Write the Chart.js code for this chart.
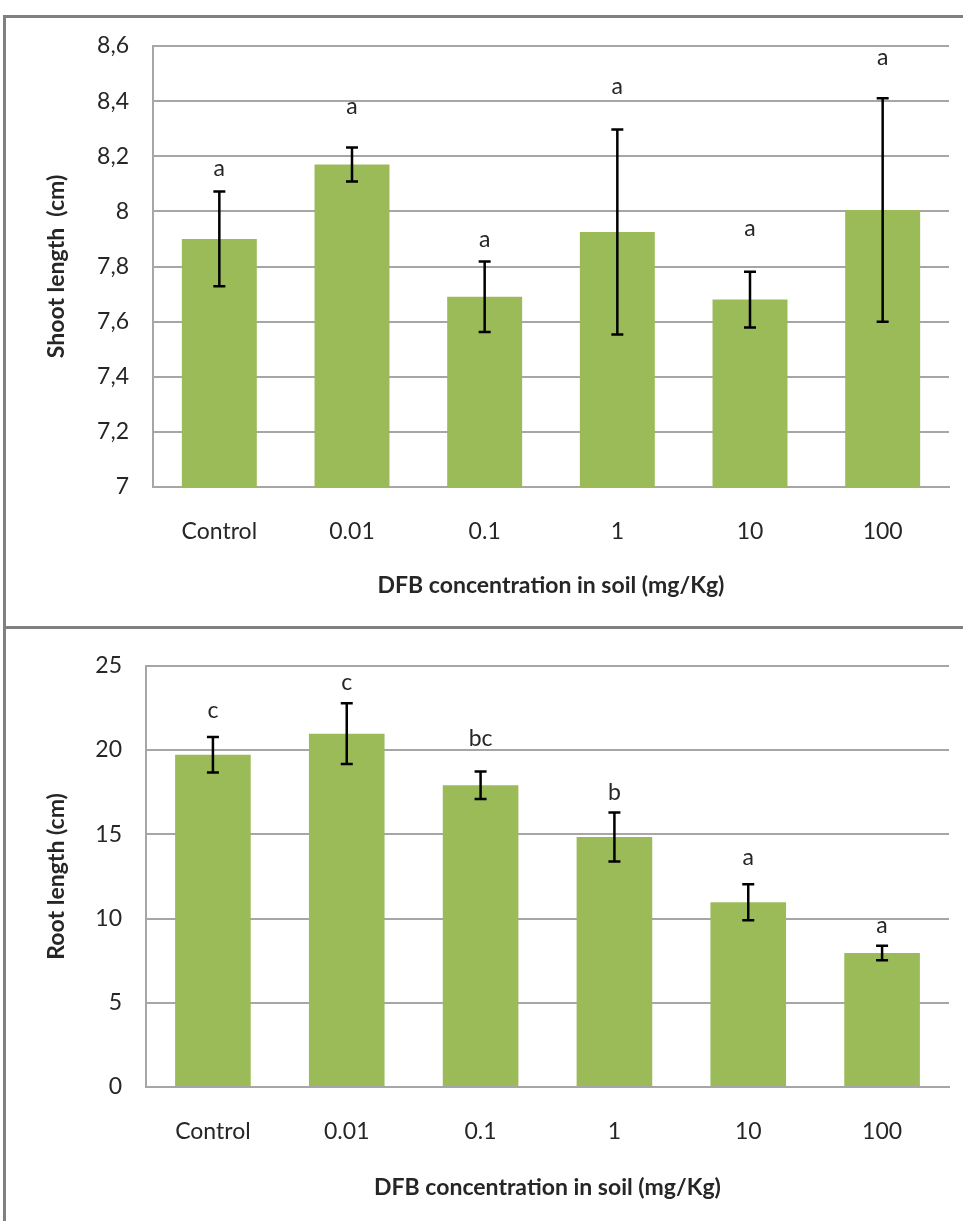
<!DOCTYPE html>
<html>
<head>
<meta charset="utf-8">
<script src="https://cdn.jsdelivr.net/npm/chart.js@4.4.1/dist/chart.umd.min.js"></script>
<style>
  body { margin: 0; background: #fff; width: 963px; height: 1221px; position: relative; overflow: hidden; }
  .wrap { position: absolute; left: 0; width: 963px; }
  .frame { position: absolute; background: #808080; }
</style>
</head>
<body>

<div class="wrap" style="top:0;height:628px"><canvas id="shootChart"></canvas></div>
<div class="wrap" style="top:628px;height:593px"><canvas id="rootChart"></canvas></div>

<div class="frame" style="left:3px;top:15px;width:960px;height:3px"></div>
<div class="frame" style="left:3px;top:15px;width:3px;height:1206px"></div>
<div class="frame" style="left:3px;top:626px;width:960px;height:3px"></div>

<script>

// =======================
// DATA
// =======================

const categories = ["Control", "0.01", "0.1", "1", "10", "100"];

const shootMean    = [7.90, 8.17, 7.69, 7.925, 7.68, 8.005];
const shootErr     = [0.172, 0.062, 0.128, 0.372, 0.101, 0.405];
const shootLetters = ["a", "a", "a", "a", "a", "a"];
const shootLetterY = [8.156, 8.382, 7.898, 8.452, 7.939, 8.558];

const rootMean    = [19.72, 20.97, 17.91, 14.84, 10.96, 7.95];
const rootErr     = [1.05, 1.80, 0.82, 1.45, 1.07, 0.43];
const rootLetters = ["c", "c", "bc", "b", "a", "a"];
const rootLetterY = [22.36, 24.02, 20.7, 17.48, 13.63, 9.6];

const xTitle = "DFB concentration in soil (mg/Kg)";

// =======================
// STYLE
// =======================

const FONT = "Lato, 'Open Sans', sans-serif";
const GREEN = "#9bbb59";
const GRID = "#a6a6a6";
const TEXT = "#262626";

Chart.defaults.font.family = FONT;
Chart.defaults.color = TEXT;

// error bars + significance letters
function makeErrorBars(mean, err, letters, letterY) {
  return {
    id: "errorBars",
    afterDatasetsDraw(chart) {
      const ctx = chart.ctx;
      const y = chart.scales.y;
      const bars = chart.getDatasetMeta(0).data;

      ctx.save();
      ctx.strokeStyle = "#000";
      ctx.lineWidth = 2.5;
      bars.forEach((bar, i) => {
        const hi = y.getPixelForValue(mean[i] + err[i]);
        const lo = y.getPixelForValue(mean[i] - err[i]);
        ctx.beginPath();
        ctx.moveTo(bar.x, hi); ctx.lineTo(bar.x, lo);
        ctx.moveTo(bar.x - 6, hi); ctx.lineTo(bar.x + 6, hi);
        ctx.moveTo(bar.x - 6, lo); ctx.lineTo(bar.x + 6, lo);
        ctx.stroke();
      });

      ctx.fillStyle = TEXT;
      ctx.font = "23px " + FONT;
      ctx.textAlign = "center";
      ctx.textBaseline = "middle";
      bars.forEach((bar, i) => {
        ctx.fillText(letters[i], bar.x, y.getPixelForValue(letterY[i]));
      });
      ctx.restore();
    }
  };
}

function commaTick(v) {
  return String(Math.round(v * 10) / 10).replace(".", ",");
}

// =======================
// CHART BUILDER
// =======================

function buildChart(id, mean, err, letters, letterY, yCfg) {
  const ctx = document.getElementById(id).getContext("2d");

  return new Chart(ctx, {
    type: "bar",
    data: {
      labels: categories,
      datasets: [{
        data: mean,
        backgroundColor: GREEN,
        borderWidth: 0,
        barPercentage: 0.565,
        categoryPercentage: 1
      }]
    },
    options: {
      responsive: true,
      maintainAspectRatio: false,
      animation: false,
      layout: { padding: { top: yCfg.padTop, right: 14, left: 0, bottom: 0 } },
      plugins: {
        legend: { display: false },
        tooltip: { enabled: false }
      },
      scales: {
        x: {
          grid: { display: false, drawTicks: false },
          border: { display: true, color: GRID, width: 2 },
          ticks: { padding: 31, font: { size: 23 }, color: TEXT },
          title: {
            display: true,
            text: xTitle,
            font: { size: 23, weight: "bold" },
            color: TEXT,
            padding: { top: 0, bottom: yCfg.xTitlePad }
          },
          afterFit: s => { s.height = yCfg.xHeight; }
        },
        y: {
          min: yCfg.min,
          max: yCfg.max,
          ticks: {
            stepSize: yCfg.step,
            padding: 24,
            font: { size: 23 },
            color: TEXT,
            callback: commaTick
          },
          grid: { color: GRID, lineWidth: 2, drawTicks: false },
          border: { display: true, color: GRID, width: 2 },
          title: {
            display: true,
            text: yCfg.title,
            font: { size: 23, weight: "bold" },
            color: TEXT,
            padding: { top: 43, bottom: 0 }
          },
          afterFit: s => { s.width = yCfg.yWidth; }
        }
      }
    },
    plugins: [makeErrorBars(mean, err, letters, letterY)]
  });
}

buildChart("shootChart", shootMean, shootErr, shootLetters, shootLetterY, {
  min: 7, max: 8.6, step: 0.2,
  title: "Shoot length  (cm)",
  padTop: 46, yWidth: 153, xHeight: 141, xTitlePad: 29
});

buildChart("rootChart", rootMean, rootErr, rootLetters, rootLetterY, {
  min: 0, max: 25, step: 5,
  title: "Root length (cm)",
  padTop: 32, yWidth: 146, xHeight: 134, xTitlePad: 20
});

</script>
</body>
</html>
